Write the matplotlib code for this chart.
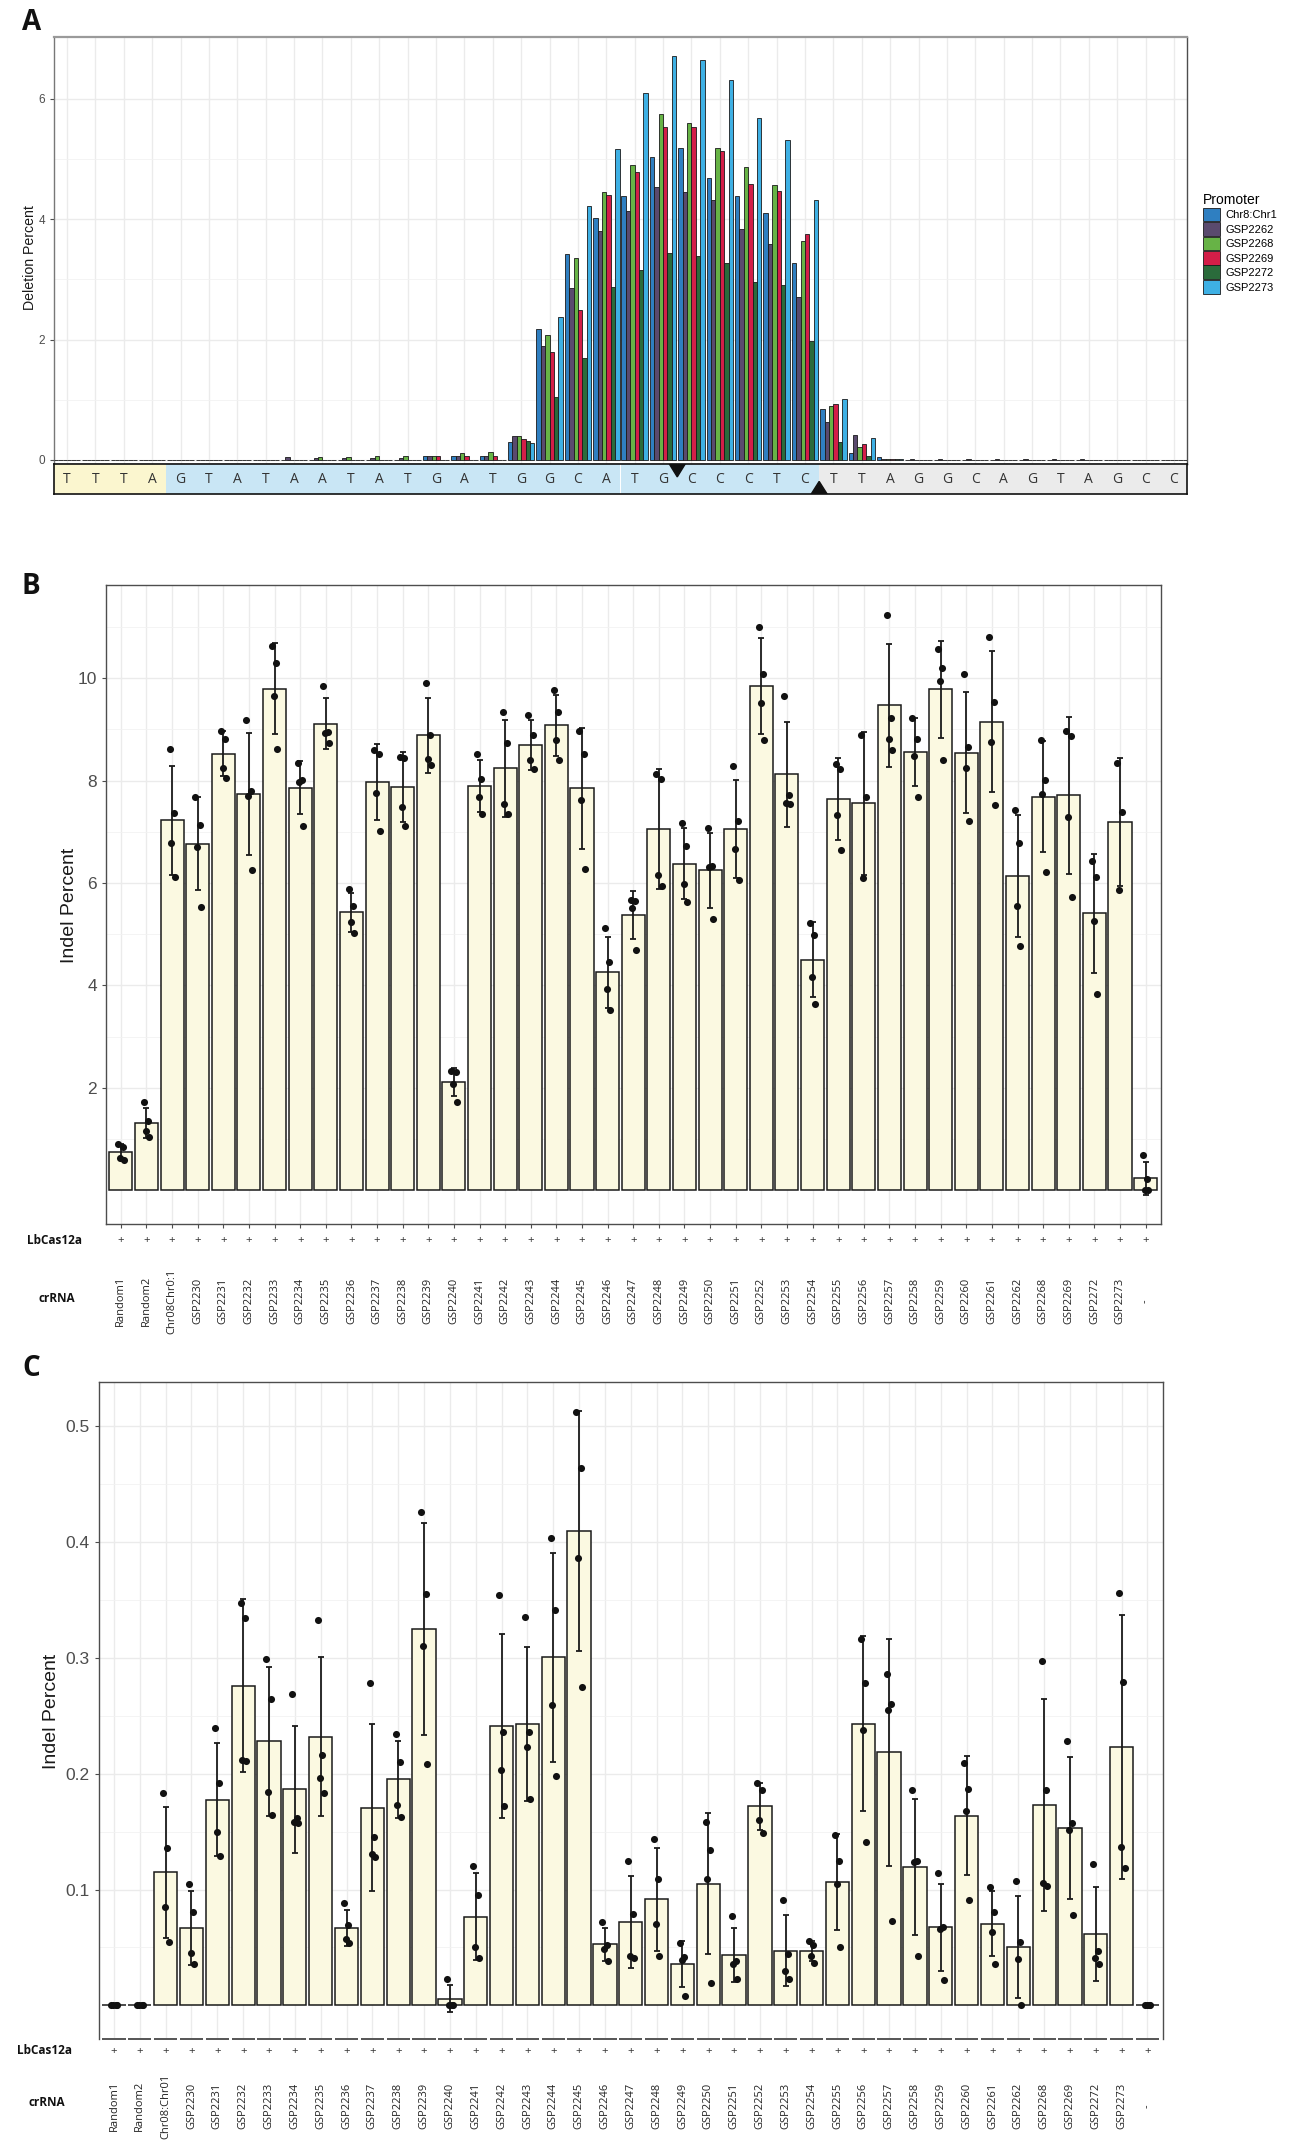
import matplotlib
matplotlib.use('Agg')
import matplotlib.pyplot as plt
from matplotlib.patches import Patch
import numpy as np

W, H = 1299, 2142

# ---------------- panel A data ----------------
sequence = list('TTTAGTATAATATGATGGCATGCCCTCTTAGGCAGTAGCC')
region_sizes = [4, 23, 13]
region_colors = ['#fbf6cf', '#c9e6f5', '#ebebeb']
cut_top = 22.5
cut_bottom = 27.5

promoters = ['Chr8:Chr1', 'GSP2262', 'GSP2268', 'GSP2269', 'GSP2272', 'GSP2273']
promoter_colors = ['#2f7fc1', '#5a4a6e', '#67b346', '#d31e48', '#2a6b3b', '#3eb0e4']

del_chr8 = [0, 0, 0, 0, 0, 0, 0, 0, 0, 0, 0, 0, 0, 0.06, 0.07, 0.06,
            0.29, 2.17, 3.42, 4.02, 4.39, 5.04, 5.18, 4.68, 4.39, 4.10, 3.27, 0.84, 0.11, 0.05,
            0, 0, 0, 0, 0, 0, 0, 0, 0, 0]
del_2262 = [0, 0, 0, 0, 0, 0, 0, 0, 0.04, 0.03, 0.03, 0.03, 0.03, 0.07, 0.07, 0.07,
            0.40, 1.89, 2.85, 3.81, 4.14, 4.54, 4.46, 4.32, 3.83, 3.58, 2.71, 0.63, 0.41, 0.02,
            0.02, 0.02, 0.02, 0.02, 0.01, 0.02, 0.02, 0, 0, 0]
del_2268 = [0, 0, 0, 0, 0, 0, 0, 0, 0, 0.04, 0.04, 0.07, 0.07, 0.07, 0.11, 0.13,
            0.39, 2.07, 3.35, 4.46, 4.90, 5.75, 5.60, 5.19, 4.87, 4.57, 3.63, 0.90, 0.22, 0.02,
            0, 0, 0, 0, 0, 0, 0, 0, 0, 0]
del_2269 = [0, 0, 0, 0, 0, 0, 0, 0, 0, 0, 0, 0, 0, 0.07, 0.07, 0.07,
            0.35, 1.80, 2.49, 4.40, 4.78, 5.53, 5.54, 5.14, 4.58, 4.47, 3.75, 0.93, 0.26, 0.02,
            0, 0, 0, 0, 0, 0, 0, 0, 0, 0]
del_2272 = [0, 0, 0, 0, 0, 0, 0, 0, 0, 0, 0, 0, 0, 0, 0, 0,
            0.31, 1.05, 1.69, 2.88, 3.16, 3.44, 3.39, 3.28, 2.95, 2.91, 1.98, 0.30, 0.07, 0.02,
            0, 0, 0, 0, 0, 0, 0, 0, 0, 0]
del_2273 = [0, 0, 0, 0, 0, 0, 0, 0, 0, 0, 0, 0, 0, 0, 0, 0,
            0.28, 2.37, 4.22, 5.16, 6.10, 6.72, 6.64, 6.31, 5.69, 5.31, 4.32, 1.01, 0.37, 0.02,
            0, 0, 0, 0, 0, 0, 0, 0, 0, 0]

# ---------------- panels B / C data ----------------
genes = ['GSP%d' % g for g in range(2230, 2263)] + ['GSP2268', 'GSP2269', 'GSP2272', 'GSP2273']
labels_b = ['Random1', 'Random2', 'Chr08Chr0:1'] + genes + ['-']
labels_c = ['Random1', 'Random2', 'Chr08:Chr01'] + genes + ['-']

points_b = [
    [0.90, 0.84, 0.62, 0.59], [1.72, 1.35, 1.16, 1.03], [8.62, 7.37, 6.79, 6.11],
    [7.68, 7.14, 6.70, 5.54], [8.97, 8.82, 8.25, 8.06], [9.19, 7.80, 7.70, 6.26],
    [10.62, 10.29, 9.66, 8.61], [8.34, 8.02, 7.98, 7.12], [9.85, 8.95, 8.92, 8.73],
    [5.88, 5.56, 5.24, 5.02], [8.60, 8.52, 7.76, 7.02], [8.47, 8.45, 7.48, 7.12],
    [9.91, 8.90, 8.43, 8.30], [2.33, 2.31, 2.08, 1.73], [8.52, 8.03, 7.67, 7.35],
    [9.33, 8.74, 7.54, 7.35], [9.29, 8.90, 8.40, 8.22], [9.77, 9.34, 8.80, 8.40],
    [8.97, 8.52, 7.63, 6.28], [5.13, 4.45, 3.92, 3.52], [5.66, 5.65, 5.51, 4.69],
    [8.12, 8.03, 6.16, 5.94], [7.17, 6.73, 5.99, 5.63], [7.07, 6.33, 6.31, 5.29],
    [8.29, 7.21, 6.67, 6.05], [10.99, 10.09, 9.51, 8.79], [9.66, 7.72, 7.56, 7.55],
    [5.21, 4.99, 4.16, 3.64], [8.33, 8.23, 7.33, 6.64], [8.89, 7.67, 6.10],
    [11.23, 9.22, 8.82, 8.60], [9.23, 8.82, 8.49, 7.67], [10.57, 10.20, 9.95, 8.40],
    [10.08, 8.65, 8.25, 7.21], [10.80, 9.54, 8.75, 7.52], [7.42, 6.78, 5.56, 4.77],
    [8.79, 8.01, 7.73, 6.22], [8.97, 8.87, 7.28, 5.73], [6.42, 6.12, 5.26, 3.83],
    [8.34, 7.39, 5.86], [0.69, 0.22, 0.01, 0.00],
]

points_c = [
    [0, 0, 0, 0], [0, 0, 0, 0], [0.183, 0.136, 0.085, 0.055],
    [0.105, 0.081, 0.045, 0.036], [0.239, 0.192, 0.150, 0.129], [0.347, 0.334, 0.212, 0.211],
    [0.299, 0.264, 0.184, 0.164], [0.269, 0.162, 0.158, 0.157], [0.333, 0.216, 0.196, 0.183],
    [0.088, 0.069, 0.057, 0.054], [0.278, 0.145, 0.131, 0.128], [0.234, 0.210, 0.173, 0.163],
    [0.426, 0.355, 0.310, 0.208], [0.023, 0.0, 0.0, 0.0], [0.120, 0.095, 0.050, 0.041],
    [0.354, 0.236, 0.203, 0.172], [0.335, 0.236, 0.223, 0.178], [0.403, 0.341, 0.259, 0.198],
    [0.512, 0.464, 0.386, 0.275], [0.072, 0.052, 0.049, 0.038], [0.125, 0.079, 0.043, 0.041],
    [0.144, 0.109, 0.070, 0.043], [0.054, 0.042, 0.039, 0.008], [0.158, 0.134, 0.109, 0.019],
    [0.077, 0.038, 0.036, 0.023], [0.192, 0.186, 0.160, 0.149], [0.091, 0.044, 0.030, 0.023],
    [0.056, 0.052, 0.043, 0.037], [0.147, 0.125, 0.105, 0.050], [0.316, 0.278, 0.238, 0.141],
    [0.286, 0.260, 0.255, 0.073], [0.186, 0.125, 0.124, 0.043], [0.114, 0.068, 0.066, 0.022],
    [0.209, 0.187, 0.168, 0.091], [0.102, 0.081, 0.063, 0.036], [0.107, 0.055, 0.040, 0.0],
    [0.297, 0.186, 0.106, 0.103], [0.228, 0.157, 0.151, 0.078], [0.122, 0.047, 0.041, 0.036],
    [0.356, 0.279, 0.137, 0.119], [0, 0, 0, 0],
]

# fixed horizontal spread of the replicate dots (style only)
spread = np.array([-0.10, 0.07, -0.03, 0.11])

SANS = ['Liberation Sans', 'DejaVu Sans']
OPEN = ['Open Sans', 'DejaVu Sans']
plt.rcParams['font.family'] = SANS

fig = plt.figure(figsize=(W / 100, H / 100), dpi=100)


def frac(left, top, right, bottom):
    return [left / W, 1 - bottom / H, (right - left) / W, (bottom - top) / H]


def style_axes(ax):
    for s in ax.spines.values():
        s.set_color('#4d4d4d')
        s.set_linewidth(1.0)
    ax.grid(True, which='major', color='#ebebeb', lw=1.0, zorder=0)
    ax.grid(True, which='minor', axis='y', color='#f2f2f2', lw=0.6, zorder=0)
    ax.set_axisbelow(True)
    ax.tick_params(axis='y', which='major', colors='#4d4d4d', length=3, width=0.8)
    ax.tick_params(axis='y', which='minor', length=0)


# ================= panel A =================
axA = fig.add_axes(frac(54, 37, 1187, 464))
xs = np.arange(1, len(sequence) + 1)
series = [del_chr8, del_2262, del_2268, del_2269, del_2272, del_2273]
bw = 0.155
for i, (vals, col) in enumerate(zip(series, promoter_colors)):
    axA.bar(xs + (i - 2.5) * bw, vals, width=bw, color=col,
            edgecolor='#1a1a1a', linewidth=0.6, zorder=3)
axA.set_xlim(0.54, len(sequence) + 0.46)
axA.set_ylim(-0.07, 7.03)
axA.set_xticks(xs)
axA.set_xticklabels([])
axA.tick_params(axis='x', length=0)
axA.set_yticks([0, 2, 4, 6])
axA.set_yticks([1, 3, 5], minor=True)
style_axes(axA)
axA.spines['top'].set_color('#9a9a9a')
axA.spines['top'].set_linewidth(1.6)
axA.spines['left'].set_color('#777777')
axA.tick_params(axis='y', labelsize=8.5, labelcolor='#4d4d4d')
fig.text(30 / W, 1 - 258 / H, 'Deletion Percent', rotation=90, ha='center', va='center',
         fontsize=10.2, color='#1a1a1a')

# sequence strip
axS = fig.add_axes(frac(54, 464, 1187, 494))
seq_colors = np.repeat(region_colors, region_sizes)
axS.bar(xs, 1, width=1.0, bottom=0, color=seq_colors, edgecolor='none', zorder=1)
for x, base in zip(xs, sequence):
    axS.text(x, 0.47, base, ha='center', va='center', fontsize=10, color='#333333',
             family=OPEN)
axS.fill([cut_top - 0.28, cut_top + 0.28, cut_top], [1, 1, 0.57], color='#111111', zorder=3)
axS.fill([cut_bottom - 0.28, cut_bottom + 0.28, cut_bottom], [0, 0, 0.42], color='#111111', zorder=3)
axS.set_xlim(axA.get_xlim())
axS.set_ylim(0, 1)
axS.set_xticks([])
axS.set_yticks([])
for s in axS.spines.values():
    s.set_color('#111111')
    s.set_linewidth(1.2)

handles = [Patch(facecolor=c, edgecolor='#1a1a1a', linewidth=0.6) for c in promoter_colors]
leg = fig.legend(handles, promoters, title='Promoter', loc='upper left',
                 bbox_to_anchor=(1203 / W, 1 - 193 / H), frameon=False, fontsize=8,
                 title_fontsize=10, handlelength=1.5, handleheight=1.55, labelspacing=0.05,
                 handletextpad=0.5, borderpad=0, borderaxespad=0, alignment='left')


# ================= panels B and C =================
def bar_panel(box, labels, points, ylim, yticks, yminor, ticklabels, plus_y, lab_y, dashed_bottom):
    ax = fig.add_axes(box)
    x = np.arange(len(labels))
    means = [np.mean(p) for p in points]
    sds = [np.std(p, ddof=1) for p in points]
    ax.bar(x, means, width=0.9, color='#fbf9e1', edgecolor='#1a1a1a', linewidth=1.1, zorder=2)
    ax.errorbar(x, means, yerr=sds, fmt='none', ecolor='#1a1a1a', elinewidth=1.3,
                capsize=2.5, capthick=1.3, zorder=3)
    for xi, p in zip(x, points):
        ax.scatter(xi + spread[:len(p)], p, s=26, color='#111111', zorder=4, linewidths=0)
    ax.set_xlim(-0.58, len(labels) - 0.4)
    ax.set_ylim(*ylim)
    ax.set_yticks(yticks)
    ax.set_yticklabels(ticklabels)
    ax.set_yticks(yminor, minor=True)
    ax.set_xticks(x)
    ax.set_xticklabels([])
    style_axes(ax)
    ax.tick_params(axis='y', labelsize=12.5, labelcolor='#4d4d4d')
    ax.tick_params(axis='x', colors='#4d4d4d', length=3, width=0.8)
    if dashed_bottom:
        ax.spines['bottom'].set_visible(False)
        ax.tick_params(axis='x', length=0)
        ax.hlines(np.full(len(x), ylim[0]), x - 0.45, x + 0.45, color='#555555', lw=1.4,
                  clip_on=False, zorder=5)
    tr = ax.get_xaxis_transform()
    for xi, lab in zip(x, labels):
        ax.text(xi, plus_y, '+', transform=tr, ha='center', va='center', fontsize=8,
                color='#333333')
        ax.text(xi, lab_y, lab, transform=tr, ha='center', va='center', rotation=90,
                fontsize=8, color='#222222', family=OPEN)
    return ax


boxB = frac(106, 585, 1161, 1224)
axB = bar_panel(boxB, labels_b, points_b, (-0.66, 11.82), [2, 4, 6, 8, 10],
                [1, 3, 5, 7, 9, 11], ['2', '4', '6', '8', '10'],
                (1224 - 1240) / 639, (1224 - 1301) / 639, False)
fig.text(69 / W, 1 - 905 / H, 'Indel Percent', rotation=90, ha='center', va='center',
         fontsize=14, color='#1a1a1a')
fig.text(55 / W, 1 - 1240 / H, 'LbCas12a', ha='center', va='center', fontsize=8.5,
         weight='bold', color='#111111', family=OPEN)
fig.text(57 / W, 1 - 1298 / H, 'crRNA', ha='center', va='center', fontsize=8.5,
         weight='bold', color='#111111', family=OPEN)

boxC = frac(99, 1382, 1163, 2039)
axC = bar_panel(boxC, labels_c, points_c, (-0.029, 0.538), [0.1, 0.2, 0.3, 0.4, 0.5],
                [0.05, 0.15, 0.25, 0.35, 0.45], ['0.1', '0.2', '0.3', '0.4', '0.5'],
                (2039 - 2051) / 657, (2039 - 2106) / 657, True)
fig.text(51 / W, 1 - 1711 / H, 'Indel Percent', rotation=90, ha='center', va='center',
         fontsize=14, color='#1a1a1a')
fig.text(45 / W, 1 - 2051 / H, 'LbCas12a', ha='center', va='center', fontsize=8.5,
         weight='bold', color='#111111', family=OPEN)
fig.text(47 / W, 1 - 2103 / H, 'crRNA', ha='center', va='center', fontsize=8.5,
         weight='bold', color='#111111', family=OPEN)

# panel letters
for letter, (px, py) in zip('ABC', [(32, 22), (31, 587), (31, 1369)]):
    fig.text(px / W, 1 - py / H, letter, ha='center', va='center', fontsize=20,
             weight='bold', color='#111111', family=OPEN)

fig.savefig('out.png', dpi=100)
